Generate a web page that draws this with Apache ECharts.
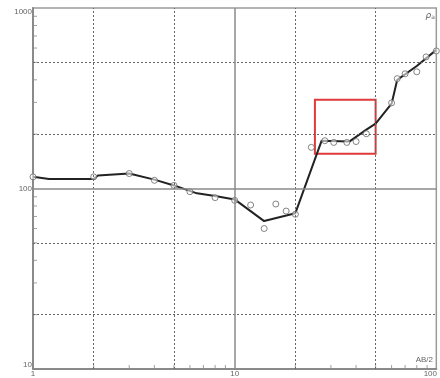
<!DOCTYPE html>
<html>
<head>
<meta charset="utf-8">
<script src="https://cdn.jsdelivr.net/npm/echarts@6/dist/echarts.min.js"></script>
<style>
  html, body { margin: 0; padding: 0; background: #fff; }
  #chart { width: 440px; height: 378px; }
</style>
</head>
<body>
<div id="chart"></div>
<script>
// Measured apparent resistivity (ohm·m) against half electrode spacing AB/2 (m)
const ab2Measured = [1, 2, 3, 4, 5, 6, 8, 10, 12, 14, 16, 18, 20, 24, 28, 31, 36, 40, 45, 60, 64, 70, 80, 89, 100];
const rhoMeasured = [116, 116, 121, 111, 104, 96, 89, 86, 81, 60, 82, 75, 72, 169, 184, 180, 180, 182, 201, 298, 406, 432, 443, 536, 578];

// Fitted sounding curve
const ab2Curve = [1, 1.2, 2, 2.1, 3, 4, 5, 6.5, 8, 10, 14, 20, 27, 37, 45, 50, 60, 64, 80, 100];
const rhoCurve = [116, 113, 113, 118, 121, 112, 104, 94, 91, 87, 66, 73, 184, 182, 212, 229, 295, 400, 477, 586];

// Highlighted segment of the curve
const boxAb2 = [25, 50];
const boxRho = [156, 310];

// Grid lines
const xDashed = [2, 5, 20, 50];
const yDashed = [20, 50, 200, 500];
const xSolid = [10];
const ySolid = [100];

// Minor tick positions inside the axes
const xMinorTicks = [2, 3, 4, 5, 6, 7, 8, 9, 20, 30, 40, 50, 60, 70, 80, 90];
const yMinorTicks = [20, 30, 40, 50, 60, 70, 80, 90, 200, 300, 400, 500, 600, 700, 800, 900];

const xMin = 1, xMax = 100, yMin = 10, yMax = 1000;

const zip = (a, b) => a.map((v, i) => [v, b[i]]);
const gray = '#8a8a8a';
const labelFont = { fontFamily: 'Liberation Sans, Arial, sans-serif', fontSize: 8, color: '#666' };

const chart = echarts.init(document.getElementById('chart'));
chart.setOption({
  animation: false,
  backgroundColor: '#fff',
  grid: { left: 33, right: 3, top: 8, bottom: 8, show: true, borderColor: '#9a9a9a', borderWidth: 1.5 },
  xAxis: {
    type: 'log', logBase: 10, min: xMin, max: xMax,
    axisLine: { lineStyle: { color: gray, width: 2 } },
    axisTick: { show: false },
    splitLine: { show: false },
    axisLabel: {
      margin: 1, ...labelFont,
      formatter: v => (v === xMax ? '{r|' + v + '}' : '{m|' + v + '}'),
      rich: { m: { ...labelFont }, r: { ...labelFont, padding: [0, 12, 0, 0] } }
    }
  },
  yAxis: {
    type: 'log', logBase: 10, min: yMin, max: yMax,
    axisLine: { lineStyle: { color: gray, width: 2 } },
    axisTick: { show: false },
    splitLine: { show: false },
    axisLabel: {
      margin: 1, ...labelFont,
      formatter: v => (v === yMax ? '{hi|' + v + '}' : v === yMin ? '{lo|' + v + '}' : '{m|' + v + '}'),
      rich: {
        m: { ...labelFont },
        hi: { ...labelFont, padding: [7, 0, 0, 0] },
        lo: { ...labelFont, padding: [0, 0, 9, 0] }
      }
    }
  },
  series: [
    {
      // grid lines
      type: 'line', data: [], silent: true,
      markLine: {
        silent: true, symbol: 'none', label: { show: false },
        data: [
          ...xDashed.map(v => ({ xAxis: v, lineStyle: { type: [2, 2], color: '#666', width: 1 } })),
          ...yDashed.map(v => ({ yAxis: v, lineStyle: { type: [2, 2], color: '#666', width: 1 } })),
          ...xSolid.map(v => ({ xAxis: v, lineStyle: { type: 'solid', color: gray, width: 1.5 } })),
          ...ySolid.map(v => ({ yAxis: v, lineStyle: { type: 'solid', color: gray, width: 1.5 } }))
        ]
      }
    },
    {
      // minor ticks along the bottom axis
      type: 'scatter', silent: true, clip: false,
      symbol: 'rect', symbolSize: [1, 4], symbolOffset: [0, -2],
      itemStyle: { color: '#888' },
      data: xMinorTicks.map(v => [v, yMin])
    },
    {
      // minor ticks along the left axis
      type: 'scatter', silent: true, clip: false,
      symbol: 'rect', symbolSize: [4, 1], symbolOffset: [2, 0],
      itemStyle: { color: '#888' },
      data: yMinorTicks.map(v => [xMin, v])
    },
    {
      type: 'line', data: zip(ab2Curve, rhoCurve), silent: true,
      symbol: 'none', lineStyle: { color: '#222', width: 2 }, z: 3
    },
    {
      type: 'scatter', data: zip(ab2Measured, rhoMeasured), silent: true, clip: false,
      symbol: 'circle', symbolSize: 6,
      itemStyle: { color: 'rgba(255,255,255,0.7)', borderColor: '#666', borderWidth: 1 }, z: 4,
      markArea: {
        silent: true,
        itemStyle: { color: 'transparent', borderColor: '#e03a3a', borderWidth: 2 },
        data: [[{ coord: [boxAb2[0], boxRho[1]] }, { coord: [boxAb2[1], boxRho[0]] }]]
      }
    }
  ],
  graphic: [
    { type: 'text', right: 7, bottom: 14, style: { text: 'AB/2', ...labelFont, fill: '#666', font: 'italic 8px Liberation Sans, Arial, sans-serif' } },
    { type: 'text', right: 5, top: 11, style: { text: '{r|ρ}{s|a}', fill: '#666', rich: { r: { fontSize: 9, fontStyle: 'italic', fontFamily: 'DejaVu Sans', fill: '#666' }, s: { fontSize: 6, fontFamily: 'DejaVu Sans', fill: '#666', padding: [4, 0, 0, 0] } } } }
  ]
});
</script>
</body>
</html>
